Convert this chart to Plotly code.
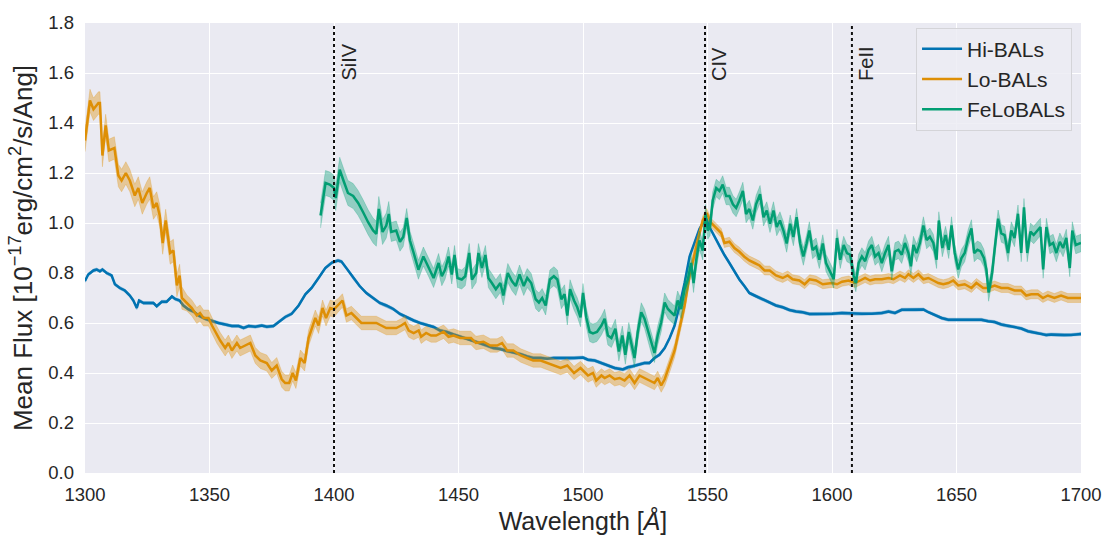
import numpy as np
import plotly.graph_objects as go

# ---- Mean composite spectra (flux in 1e-17 erg/cm^2/s/Ang) ----
hi_wave = [1300.0, 1301.3, 1303.4, 1304.7, 1306.0, 1307.0, 1308.7, 1310.7, 1312.0, 1314.0,
           1316.0, 1318.0, 1319.4, 1320.8, 1321.7, 1323.5, 1325.5, 1327.5, 1328.8, 1330.8,
           1332.8, 1334.9, 1336.2, 1338.0, 1339.5, 1341.6, 1343.6, 1345.6, 1348.3, 1351.0,
           1353.6, 1356.3, 1359.0, 1361.7, 1363.7, 1365.7, 1368.4, 1371.0, 1373.0, 1375.7,
           1377.7, 1380.4, 1383.0, 1385.8, 1388.5, 1391.0, 1393.8, 1396.5, 1399.2, 1401.6,
           1403.0, 1405.0, 1407.7, 1410.3, 1413.0, 1415.7, 1418.4, 1421.0, 1423.8, 1426.5,
           1429.0, 1432.0, 1434.5, 1437.0, 1440.0, 1442.6, 1445.3, 1448.0, 1450.7, 1453.4,
           1456.0, 1458.7, 1461.4, 1464.0, 1466.8, 1469.5, 1472.0, 1475.0, 1477.6, 1480.0,
           1483.0, 1485.6, 1488.3, 1491.0, 1493.7, 1496.4, 1500.0, 1502.0, 1504.7, 1507.4,
           1510.0, 1512.7, 1516.0, 1518.0, 1520.0, 1522.0, 1524.7, 1526.7, 1528.7, 1530.7,
           1532.8, 1534.8, 1536.8, 1538.8, 1540.8, 1542.8, 1544.8, 1546.8, 1548.8, 1549.7,
           1550.8, 1552.8, 1554.8, 1556.8, 1558.8, 1560.8, 1562.8, 1564.8, 1566.8, 1568.9,
           1570.9, 1572.9, 1575.0, 1577.5, 1580.2, 1582.9, 1585.6, 1588.2, 1591.0, 1593.6,
           1596.3, 1600.0, 1604.0, 1608.0, 1612.0, 1616.0, 1620.0, 1622.7, 1625.3, 1628.0,
           1630.7, 1633.3, 1636.7, 1638.7, 1641.3, 1644.0, 1646.7, 1649.3, 1652.0, 1654.7,
           1657.3, 1660.0, 1662.7, 1665.3, 1668.0, 1670.7, 1673.3, 1676.0, 1678.7, 1681.3,
           1684.0, 1686.0, 1688.0, 1690.7, 1693.3, 1696.0, 1700.0]
hi_flux = [0.768, 0.794, 0.810, 0.814, 0.807, 0.814, 0.800, 0.790, 0.755, 0.740,
           0.730, 0.710, 0.690, 0.660, 0.690, 0.680, 0.680, 0.680, 0.667, 0.685,
           0.685, 0.706, 0.696, 0.690, 0.670, 0.654, 0.646, 0.630, 0.617, 0.607,
           0.600, 0.594, 0.588, 0.588, 0.580, 0.588, 0.585, 0.590, 0.585, 0.588,
           0.604, 0.624, 0.637, 0.670, 0.715, 0.740, 0.780, 0.820, 0.842, 0.850,
           0.846, 0.820, 0.780, 0.748, 0.720, 0.700, 0.680, 0.670, 0.656, 0.636,
           0.623, 0.610, 0.600, 0.593, 0.584, 0.570, 0.564, 0.554, 0.545, 0.538,
           0.530, 0.518, 0.510, 0.500, 0.496, 0.488, 0.483, 0.475, 0.466, 0.460,
           0.460, 0.457, 0.460, 0.460, 0.457, 0.460, 0.462, 0.453, 0.450, 0.440,
           0.430, 0.420, 0.414, 0.423, 0.427, 0.433, 0.440, 0.440, 0.460, 0.473,
           0.500, 0.540, 0.590, 0.670, 0.760, 0.866, 0.925, 0.977, 1.010, 1.013,
           0.984, 0.945, 0.905, 0.872, 0.840, 0.807, 0.774, 0.748, 0.720, 0.710,
           0.700, 0.690, 0.682, 0.670, 0.663, 0.652, 0.646, 0.643, 0.636, 0.636,
           0.635, 0.637, 0.640, 0.637, 0.637, 0.637, 0.640, 0.646, 0.640, 0.653,
           0.654, 0.653, 0.654, 0.643, 0.633, 0.620, 0.613, 0.613, 0.613, 0.613,
           0.613, 0.613, 0.607, 0.604, 0.594, 0.588, 0.585, 0.578, 0.567, 0.562,
           0.558, 0.552, 0.554, 0.552, 0.552, 0.552, 0.556]

lo_wave = [1300.0, 1302.0, 1303.4, 1305.4, 1306.0, 1307.0, 1308.3, 1309.6, 1311.8, 1313.4,
           1314.7, 1316.4, 1318.0, 1320.0, 1321.4, 1323.0, 1324.8, 1326.0, 1327.5, 1328.8,
           1330.0, 1331.2, 1332.4, 1334.2, 1335.5, 1336.9, 1338.0, 1338.9, 1340.9, 1342.9,
           1344.9, 1346.2, 1347.6, 1349.6, 1351.0, 1353.0, 1354.3, 1356.3, 1357.6, 1359.0,
           1361.0, 1362.3, 1364.3, 1366.4, 1368.4, 1370.4, 1373.0, 1375.0, 1377.0, 1379.0,
           1380.4, 1382.0, 1383.4, 1384.7, 1386.5, 1388.2, 1389.8, 1392.5, 1393.8, 1395.4,
           1396.8, 1398.5, 1400.0, 1401.6, 1403.4, 1405.0, 1407.0, 1409.0, 1411.0, 1413.0,
           1415.0, 1417.0, 1419.0, 1421.0, 1423.0, 1425.0, 1427.0, 1428.5, 1430.0, 1432.0,
           1434.0, 1435.0, 1437.0, 1439.0, 1441.0, 1444.0, 1446.0, 1448.0, 1450.7, 1453.4,
           1455.0, 1457.0, 1460.0, 1462.8, 1465.5, 1467.5, 1469.5, 1472.0, 1475.0, 1477.5,
           1480.0, 1483.0, 1485.6, 1488.0, 1491.0, 1493.7, 1496.4, 1499.0, 1500.0, 1502.0,
           1504.0, 1505.3, 1507.4, 1508.7, 1510.7, 1512.7, 1514.7, 1516.7, 1518.7, 1520.7,
           1522.7, 1524.7, 1526.7, 1528.7, 1530.0, 1531.4, 1532.8, 1534.8, 1536.8, 1538.8,
           1540.8, 1542.8, 1544.8, 1546.8, 1548.1, 1549.7, 1551.5, 1553.5, 1555.5, 1556.8,
           1558.8, 1560.8, 1562.8, 1564.8, 1566.8, 1568.9, 1570.9, 1572.9, 1575.0, 1577.5,
           1580.2, 1582.2, 1584.2, 1586.9, 1589.0, 1591.0, 1593.6, 1596.3, 1600.0, 1602.0,
           1604.0, 1606.7, 1609.3, 1611.3, 1613.3, 1615.3, 1617.3, 1620.0, 1622.7, 1624.7,
           1627.3, 1629.3, 1630.7, 1632.7, 1634.7, 1636.7, 1638.7, 1640.7, 1642.7, 1644.7,
           1646.7, 1648.7, 1650.7, 1653.3, 1656.0, 1658.0, 1660.7, 1662.7, 1665.3, 1668.0,
           1670.7, 1673.3, 1676.0, 1678.0, 1680.0, 1682.7, 1684.7, 1686.7, 1689.3, 1692.0,
           1694.7, 1697.3, 1700.0]
lo_flux = [1.330, 1.490, 1.455, 1.480, 1.480, 1.270, 1.390, 1.290, 1.300, 1.190,
           1.170, 1.200, 1.170, 1.110, 1.140, 1.080, 1.120, 1.140, 1.060, 1.080,
           1.030, 0.920, 1.010, 0.880, 0.890, 0.750, 0.790, 0.700, 0.680, 0.660,
           0.630, 0.640, 0.620, 0.620, 0.590, 0.550, 0.530, 0.500, 0.520, 0.490,
           0.520, 0.500, 0.510, 0.520, 0.470, 0.450, 0.440, 0.410, 0.430, 0.375,
           0.360, 0.360, 0.400, 0.370, 0.460, 0.440, 0.540, 0.620, 0.590, 0.660,
           0.620, 0.660, 0.655, 0.670, 0.690, 0.630, 0.640, 0.620, 0.600, 0.600,
           0.600, 0.600, 0.590, 0.580, 0.580, 0.580, 0.590, 0.600, 0.570, 0.560,
           0.570, 0.545, 0.560, 0.550, 0.550, 0.565, 0.545, 0.550, 0.540, 0.540,
           0.540, 0.520, 0.525, 0.510, 0.510, 0.520, 0.490, 0.490, 0.470, 0.460,
           0.450, 0.450, 0.440, 0.430, 0.420, 0.430, 0.400, 0.420, 0.410, 0.390,
           0.400, 0.370, 0.390, 0.380, 0.390, 0.375, 0.380, 0.370, 0.390, 0.360,
           0.390, 0.380, 0.370, 0.360, 0.380, 0.350, 0.375, 0.430, 0.490, 0.580,
           0.670, 0.790, 0.880, 0.960, 1.010, 1.040, 1.000, 0.980, 0.960, 0.920,
           0.925, 0.900, 0.885, 0.865, 0.850, 0.840, 0.830, 0.810, 0.810, 0.790,
           0.780, 0.790, 0.775, 0.770, 0.755, 0.775, 0.770, 0.755, 0.760, 0.755,
           0.765, 0.770, 0.760, 0.770, 0.780, 0.770, 0.775, 0.775, 0.780, 0.775,
           0.790, 0.780, 0.795, 0.780, 0.795, 0.775, 0.780, 0.770, 0.760, 0.755,
           0.760, 0.770, 0.750, 0.755, 0.740, 0.760, 0.740, 0.740, 0.750, 0.740,
           0.740, 0.730, 0.730, 0.710, 0.715, 0.715, 0.700, 0.710, 0.700, 0.710,
           0.700, 0.700, 0.700]

fe_wave = [1394.6, 1396.6, 1398.3, 1400.0, 1400.7, 1402.3, 1403.9, 1405.6, 1407.7, 1409.7,
           1411.7, 1413.7, 1415.7, 1417.0, 1418.0, 1419.5, 1421.0, 1422.0, 1423.0, 1425.0,
           1426.5, 1427.8, 1429.2, 1430.5, 1432.0, 1433.9, 1435.9, 1437.9, 1440.0, 1442.0,
           1443.3, 1444.6, 1446.0, 1447.3, 1448.4, 1449.6, 1451.3, 1452.7, 1454.3, 1455.4,
           1457.1, 1458.0, 1459.4, 1460.8, 1462.0, 1463.4, 1465.0, 1466.8, 1468.0, 1469.8,
           1471.5, 1473.0, 1474.5, 1476.2, 1477.6, 1479.2, 1481.0, 1482.3, 1483.6, 1485.0,
           1486.7, 1488.3, 1489.7, 1491.3, 1492.6, 1493.7, 1494.8, 1496.4, 1497.7, 1499.0,
           1500.0, 1501.3, 1502.7, 1504.0, 1505.6, 1507.4, 1508.7, 1510.0, 1511.4, 1513.0,
           1514.4, 1515.8, 1517.0, 1518.4, 1519.5, 1520.7, 1522.0, 1523.4, 1524.7, 1526.0,
           1527.4, 1528.7, 1530.0, 1531.4, 1532.8, 1534.1, 1535.4, 1536.8, 1538.0, 1539.4,
           1540.8, 1542.1, 1543.4, 1544.4, 1545.5, 1546.8, 1548.1, 1549.2, 1550.1, 1551.0,
           1552.1, 1553.5, 1554.8, 1556.1, 1557.5, 1558.8, 1560.2, 1561.5, 1562.8, 1564.2,
           1565.5, 1566.8, 1568.2, 1569.5, 1571.1, 1572.5, 1573.8, 1575.1, 1576.5, 1577.8,
           1579.1, 1580.5, 1581.8, 1583.2, 1584.5, 1585.8, 1587.2, 1588.5, 1589.8, 1590.9,
           1592.2, 1593.6, 1594.9, 1596.3, 1597.6, 1599.0, 1600.7, 1602.0, 1603.3, 1604.7,
           1606.0, 1607.3, 1608.7, 1609.6, 1610.7, 1612.0, 1613.3, 1614.7, 1616.0, 1617.3,
           1618.7, 1620.0, 1621.3, 1622.7, 1624.0, 1625.3, 1626.7, 1628.0, 1629.3, 1630.7,
           1631.7, 1632.7, 1634.0, 1635.3, 1636.7, 1638.0, 1639.3, 1640.7, 1642.0, 1642.9,
           1644.3, 1645.6, 1646.9, 1648.0, 1649.3, 1650.7, 1652.0, 1653.3, 1654.7, 1656.0,
           1657.1, 1658.4, 1659.7, 1661.0, 1662.0, 1662.9, 1664.3, 1665.3, 1666.7, 1668.0,
           1669.3, 1670.7, 1672.0, 1673.3, 1674.7, 1676.0, 1677.1, 1678.4, 1679.7, 1681.0,
           1682.4, 1683.7, 1684.8, 1686.1, 1687.5, 1688.8, 1690.1, 1691.5, 1692.8, 1694.1,
           1695.5, 1696.5, 1697.9, 1700.0]
fe_flux = [1.030, 1.160, 1.154, 1.140, 1.100, 1.213, 1.167, 1.120, 1.108, 1.080,
           1.043, 1.003, 0.970, 0.957, 1.056, 0.964, 0.990, 1.036, 0.964, 0.970,
           0.925, 0.944, 1.020, 0.930, 0.880, 0.813, 0.866, 0.826, 0.780, 0.840,
           0.787, 0.813, 0.866, 0.794, 0.872, 0.780, 0.774, 0.787, 0.880, 0.774,
           0.800, 0.880, 0.820, 0.872, 0.780, 0.760, 0.735, 0.760, 0.710, 0.800,
           0.767, 0.748, 0.794, 0.748, 0.780, 0.760, 0.695, 0.682, 0.700, 0.670,
           0.774, 0.787, 0.774, 0.695, 0.715, 0.630, 0.735, 0.690, 0.663, 0.623,
           0.720, 0.623, 0.564, 0.558, 0.564, 0.590, 0.617, 0.550, 0.540, 0.577,
           0.486, 0.550, 0.473, 0.564, 0.510, 0.460, 0.564, 0.643, 0.617, 0.570,
           0.518, 0.480, 0.550, 0.603, 0.682, 0.656, 0.643, 0.630, 0.690, 0.656,
           0.735, 0.774, 0.840, 0.760, 0.853, 0.930, 0.890, 1.036, 0.970, 0.984,
           1.090, 1.140, 1.128, 1.154, 1.108, 1.108, 1.075, 1.060, 1.090, 1.128,
           1.036, 1.056, 1.010, 1.075, 1.115, 1.023, 1.050, 0.997, 1.050, 0.984,
           1.010, 0.970, 0.918, 0.997, 0.944, 1.023, 0.918, 0.866, 0.918, 0.970,
           0.892, 0.905, 0.853, 0.918, 0.840, 0.813, 0.775, 0.940, 0.853, 0.912,
           0.880, 0.873, 0.790, 0.760, 0.840, 0.866, 0.847, 0.893, 0.912, 0.866,
           0.880, 0.840, 0.880, 0.912, 0.807, 0.886, 0.893, 0.873, 0.920, 0.880,
           0.827, 0.912, 0.880, 0.920, 0.990, 0.932, 0.945, 0.920, 0.853, 1.010,
           0.900, 0.952, 0.893, 0.990, 0.880, 0.814, 0.860, 0.880, 0.940, 0.978,
           0.880, 0.893, 0.886, 0.860, 0.814, 0.722, 0.800, 0.893, 1.017, 0.958,
           0.952, 0.880, 0.970, 0.940, 1.037, 0.880, 1.063, 0.880, 0.965, 0.952,
           0.970, 0.984, 0.814, 0.984, 0.912, 0.920, 0.880, 0.925, 0.900, 0.940,
           0.820, 0.970, 0.912, 0.920]

# Half-width of the uncertainty band, piecewise over wavelength ranges
hi_err_breaks, hi_err_levels = [], [0.006]
lo_err_breaks, lo_err_levels = [1340, 1400, 1545], [0.045, 0.032, 0.027, 0.018]
fe_err_breaks, fe_err_levels = [1422, 1550], [0.05, 0.038, 0.035]

# Line identifications
line_wave = [1400, 1549, 1608]
line_name = ["SiIV", "CIV", "FeII"]

series = [
    ("Hi-BALs", hi_wave, hi_flux, hi_err_breaks, hi_err_levels, (1, 115, 178)),
    ("Lo-BALs", lo_wave, lo_flux, lo_err_breaks, lo_err_levels, (222, 143, 5)),
    ("FeLoBALs", fe_wave, fe_flux, fe_err_breaks, fe_err_levels, (2, 158, 115)),
]

FONT = "Liberation Sans, Arial, sans-serif"
TXT = "#262626"

fig = go.Figure()

for name, wave, flux, brk, lev, (r, g, b) in series:
    w = np.asarray(wave)
    f = np.asarray(flux)
    err = np.asarray(lev)[np.searchsorted(brk, w)]
    upper = f + err
    lower = f - err
    fig.add_trace(go.Scatter(
        x=np.concatenate([w, w[::-1]]),
        y=np.concatenate([upper, lower[::-1]]),
        fill="toself",
        fillcolor=f"rgba({r},{g},{b},0.38)",
        line=dict(color=f"rgba({r},{g},{b},0.3)", width=0.8),
        hoverinfo="skip",
        showlegend=False,
    ))
    fig.add_trace(go.Scatter(
        x=w, y=f, mode="lines", name=name,
        line=dict(color=f"rgb({r},{g},{b})", width=2.5),
    ))

for lw, ln in zip(line_wave, line_name):
    fig.add_shape(type="line", xref="x", yref="paper", x0=lw, x1=lw, y0=0, y1=1,
                  line=dict(color="#111111", width=2, dash="dot"), layer="above")
    fig.add_annotation(x=lw, y=1.56, xref="x", yref="y", text=ln, textangle=-90,
                       showarrow=False, xanchor="left", yanchor="bottom", xshift=1,
                       font=dict(family=FONT, size=20, color=TXT))

fig.update_layout(
    width=1114, height=544,
    margin=dict(l=85, r=32, t=15, b=71),
    paper_bgcolor="white",
    plot_bgcolor="#EAEAF2",
    font=dict(family=FONT, color=TXT),
    showlegend=True,
    legend=dict(
        x=0.991, y=0.99, xanchor="right", yanchor="top",
        bgcolor="rgba(236,236,243,0.85)", bordercolor="#d4d4d8", borderwidth=1,
        font=dict(family=FONT, size=21, color=TXT),
        itemwidth=40, tracegroupgap=0,
    ),
    xaxis=dict(
        range=[1300, 1700], tickmode="array", tickvals=list(range(1300, 1701, 50)),
        showgrid=True, gridcolor="white", gridwidth=1.3, zeroline=False,
        showline=False, ticks="", tickfont=dict(size=18.5, color=TXT),
        ticklabelstandoff=8,
        title=dict(text="Wavelength [<i>Å</i>]", font=dict(size=25, color=TXT), standoff=8),
    ),
    yaxis=dict(
        range=[0, 1.8], tickmode="array", tickvals=[i / 5 for i in range(10)],
        tickformat=".1f",
        showgrid=True, gridcolor="white", gridwidth=1.3, zeroline=False,
        showline=False, ticks="", tickfont=dict(size=18.5, color=TXT),
        ticklabelstandoff=10,
        title=dict(text="Mean Flux [10<sup>−17</sup>erg/cm<sup>2</sup>/s/Ang]",
                   font=dict(size=26, color=TXT), standoff=8),
    ),
)

fig.write_html("out.html")
